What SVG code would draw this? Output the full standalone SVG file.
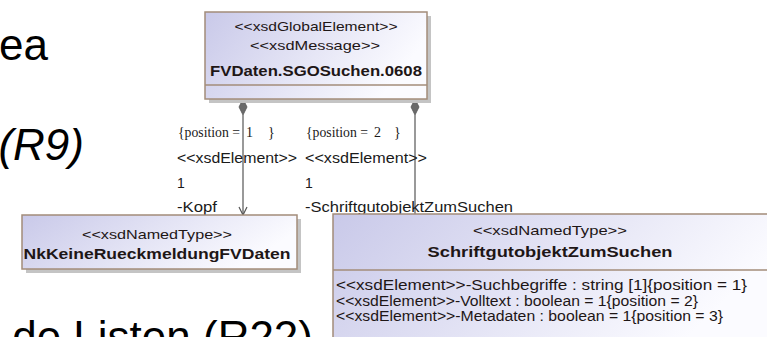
<svg xmlns="http://www.w3.org/2000/svg" width="767" height="337" viewBox="0 0 767 337">
<defs>
<linearGradient id="fill" x1="0" y1="0" x2="1" y2="0.3">
<stop offset="0" stop-color="#c9c9e9"/>
<stop offset="1" stop-color="#fbfbff"/>
</linearGradient>
<marker id="open" viewBox="0 0 10 10" refX="9" refY="5" markerWidth="10" markerHeight="10" markerUnits="userSpaceOnUse" orient="auto">
<path d="M1,1 L9,5 L1,9" fill="none" stroke="#555" stroke-width="1.2"/>
</marker>
</defs>
<style>
.bg{font-family:"Liberation Sans",Arial,sans-serif;font-size:44px;fill:#000}
.box{fill:url(#fill);stroke:#a38c7a;stroke-width:1.5}
.shadow{fill:#c4c4c4}
.sep{stroke:#a38c7a;stroke-width:1.5}
.st{font-family:"Liberation Sans",Arial,sans-serif;font-size:13px;fill:#1e1616;text-anchor:middle}
.nm{font-family:"Liberation Sans",Arial,sans-serif;font-size:15px;font-weight:bold;fill:#1e1616;text-anchor:middle}
.at{font-family:"Liberation Sans",Arial,sans-serif;font-size:14px;fill:#1e1616}
.lb{font-family:"Liberation Sans",Arial,sans-serif;font-size:14px;fill:#1a1a1a}
.pos{font-family:"Liberation Serif","Times New Roman",serif;font-size:14px;fill:#1a1a1a}
.line{stroke:#555;stroke-width:1.2;fill:none}
.dia{fill:#6a6a6a;stroke:#555;stroke-width:0.8}
</style>

<text class="bg" x="48" y="60" text-anchor="end">ea</text>
<text class="bg" x="84" y="160" text-anchor="end" font-style="italic">(R9)</text>
<text class="bg" x="313" y="352" text-anchor="end">de Listen (R22)</text>

<g id="connectors">
<line class="line" x1="243" y1="115" x2="243" y2="215" marker-end="url(#open)"/>
<path class="dia" d="M243,99 L247,107 L243,115 L239,107 Z"/>
<line class="line" x1="415" y1="115" x2="415" y2="214"/>
<path class="dia" d="M415,99 L419,107 L415,115 L411,107 Z"/>
<text class="pos" x="178" y="137" textLength="62" lengthAdjust="spacingAndGlyphs">{position =</text>
<text class="pos" x="246" y="137">1</text>
<text class="pos" x="268" y="137">}</text>
<text class="lb" x="177" y="163" textLength="120" lengthAdjust="spacingAndGlyphs">&lt;&lt;xsdElement&gt;&gt;</text>
<text class="lb" x="177" y="188">1</text>
<text class="lb" x="177" y="212" textLength="40" lengthAdjust="spacingAndGlyphs">-Kopf</text>
<text class="pos" x="306" y="137" textLength="62" lengthAdjust="spacingAndGlyphs">{position =</text>
<text class="pos" x="374" y="137">2</text>
<text class="pos" x="394" y="137">}</text>
<text class="lb" x="305" y="163" textLength="122" lengthAdjust="spacingAndGlyphs">&lt;&lt;xsdElement&gt;&gt;</text>
<text class="lb" x="305" y="188">1</text>
<text class="lb" x="305" y="212" textLength="208" lengthAdjust="spacingAndGlyphs">-SchriftgutobjektZumSuchen</text>
</g>

<g id="FVDaten">
<rect class="shadow" x="209" y="16" width="222" height="87"/>
<rect class="box" x="205" y="12" width="222" height="87"/>
<line class="sep" x1="205" y1="85" x2="427" y2="85"/>
<text class="st" x="316" y="31" textLength="163" lengthAdjust="spacingAndGlyphs">&lt;&lt;xsdGlobalElement&gt;&gt;</text>
<text class="st" x="315" y="50" textLength="130" lengthAdjust="spacingAndGlyphs">&lt;&lt;xsdMessage&gt;&gt;</text>
<text class="nm" x="316" y="76" font-size="17.5" textLength="212" lengthAdjust="spacingAndGlyphs">FVDaten.SGOSuchen.0608</text>
</g>

<g id="NkKeine">
<rect class="shadow" x="26" y="219" width="275" height="54"/>
<rect class="box" x="22" y="215" width="275" height="54"/>
<text class="st" x="157" y="239" font-size="14" textLength="150" lengthAdjust="spacingAndGlyphs">&lt;&lt;xsdNamedType&gt;&gt;</text>
<text class="nm" x="157" y="259" textLength="267" lengthAdjust="spacingAndGlyphs">NkKeineRueckmeldungFVDaten</text>
</g>

<g id="Schriftgut">
<rect class="shadow" x="337" y="218" width="440" height="130"/>
<rect class="box" x="333" y="214" width="440" height="130"/>
<line class="sep" x1="333" y1="270" x2="767" y2="270"/>
<text class="st" x="550" y="235" font-size="14" textLength="154" lengthAdjust="spacingAndGlyphs">&lt;&lt;xsdNamedType&gt;&gt;</text>
<text class="nm" x="550" y="257" textLength="245" lengthAdjust="spacingAndGlyphs">SchriftgutobjektZumSuchen</text>
<text class="at" x="336" y="290" textLength="411" lengthAdjust="spacingAndGlyphs">&lt;&lt;xsdElement&gt;&gt;-Suchbegriffe : string [1]{position = 1}</text>
<text class="at" x="336" y="305.5" font-size="12" textLength="362" lengthAdjust="spacingAndGlyphs">&lt;&lt;xsdElement&gt;&gt;-Volltext : boolean = 1{position = 2}</text>
<text class="at" x="336" y="321" font-size="14.5" textLength="387" lengthAdjust="spacingAndGlyphs">&lt;&lt;xsdElement&gt;&gt;-Metadaten : boolean = 1{position = 3}</text>
</g>
</svg>
